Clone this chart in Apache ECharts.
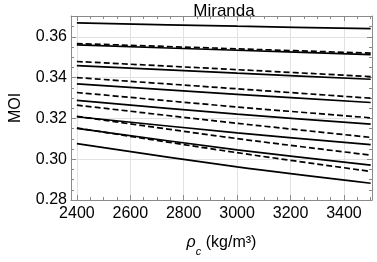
<!DOCTYPE html>
<html>
<head>
<meta charset="utf-8">
<script src="https://cdn.jsdelivr.net/npm/echarts@6/dist/echarts.min.js"></script>
<style>html,body{margin:0;padding:0;background:#fff}#c{width:377px;height:262px}</style>
</head>
<body>
<div id="c"></div>
<script>
// Core density samples (kg/m^3)
const rhoC = [2400, 3000, 3500];
// Solid curves (top to bottom), MOI at rhoC
const solid1 = [0.3668, 0.3652, 0.3640];
const solid2 = [0.3560, 0.3534, 0.3513];
const solid3 = [0.3459, 0.3422, 0.3392];
const solid4 = [0.3369, 0.3318, 0.3278];
const solid5 = [0.3288, 0.3221, 0.3172];
const solid6 = [0.3208, 0.3129, 0.3071];
const solid7 = [0.3151, 0.3046, 0.2971];
const solid8 = [0.3076, 0.2962, 0.2882];
// Dashed curves (top to bottom)
const dashed1 = [0.3567, 0.3541, 0.3520];
const dashed2 = [0.3479, 0.3439, 0.3405];
const dashed3 = [0.3400, 0.3345, 0.3299];
const dashed4 = [0.3327, 0.3256, 0.3203];
const dashed5 = [0.3265, 0.3176, 0.3107];
const dashed6 = [0.3210, 0.3101, 0.3020];
const dashed7 = [0.3153, 0.3032, 0.2940];

// Tick labels
const xTicks = [2400, 2600, 2800, 3000, 3200, 3400];
const yTicks = [0.28, 0.30, 0.32, 0.34, 0.36];
const xMinor = [2450,2500,2550,2650,2700,2750,2850,2900,2950,3050,3100,3150,3250,3300,3350,3450,3500];
const yMinor = [0.285,0.29,0.295,0.305,0.31,0.315,0.325,0.33,0.335,0.345,0.35,0.355,0.365,0.37];

const solids = [solid1, solid2, solid3, solid4, solid5, solid6, solid7, solid8];
const dasheds = [dashed1, dashed2, dashed3, dashed4, dashed5, dashed6, dashed7];

const FONT = 'Liberation Sans, Arial, Helvetica, sans-serif';
const X_MIN = 2378, X_MAX = 3505, Y_MIN = 0.28, Y_MAX = 0.3702;
const frameColor = '#8a8a8a';
const FS = 16;

function xAx(pos, vals, len, showLine, showLabel, grid) {
  return {
    type: 'value', min: X_MIN, max: X_MAX, position: pos,
    axisLine: {show: showLine, onZero: false, lineStyle: {color: frameColor, width: 1}},
    axisTick: {show: true, inside: true, length: len, customValues: vals, lineStyle: {color: frameColor}},
    axisLabel: {show: showLabel, customValues: vals, color: '#000', fontSize: FS, fontFamily: FONT, margin: 6,
      formatter: v => String(Math.round(v))},
    splitLine: {show: grid, lineStyle: {color: '#e2e2e2', width: 1}}
  };
}
function yAx(pos, vals, len, showLine, showLabel, grid) {
  return {
    type: 'value', min: Y_MIN, max: Y_MAX, position: pos,
    axisLine: {show: showLine, onZero: false, lineStyle: {color: frameColor, width: 1}},
    axisTick: {show: true, inside: true, length: len, customValues: vals, lineStyle: {color: frameColor}},
    axisLabel: {show: showLabel, customValues: vals, color: '#000', fontSize: FS, fontFamily: FONT, margin: 4,
      formatter: v => v.toFixed(2)},
    splitLine: {show: grid, lineStyle: {color: '#e2e2e2', width: 1}}
  };
}

const xAxes = [
  Object.assign(xAx('bottom', xTicks, 5, true, true, true), {
    name: '{i|ρ}{s|c} (kg/m³)', nameLocation: 'middle', nameGap: 35,
    nameTextStyle: {color: '#000', fontSize: FS, fontFamily: FONT,
      rich: {i: {fontStyle: 'italic', fontSize: FS, fontFamily: FONT, color: '#000'},
             s: {fontStyle: 'italic', fontSize: 11, fontFamily: FONT, color: '#000', verticalAlign: 'bottom', padding: [0,0,-6,0]}}}
  }),
  xAx('bottom', xMinor, 3, false, false, false),
  xAx('top', xTicks, 5, true, false, false),
  xAx('top', xMinor, 3, false, false, false)
];
const yAxes = [
  Object.assign(yAx('left', yTicks, 5, true, true, true), {
    name: 'MOI', nameLocation: 'middle', nameGap: 47,
    nameTextStyle: {color: '#000', fontSize: FS, fontFamily: FONT}
  }),
  yAx('left', yMinor, 3, false, false, false),
  yAx('right', yTicks, 5, true, false, false),
  yAx('right', yMinor, 3, false, false, false)
];

const series = [];
function mk(vals, dashed) {
  return {
    type: 'line', xAxisIndex: 0, yAxisIndex: 0, smooth: 0.3, showSymbol: false, silent: true,
    data: rhoC.map((x, i) => [x, vals[i]]),
    lineStyle: {color: '#000', width: 1.7, type: dashed ? [6, 3] : 'solid'}
  };
}
solids.forEach(s => series.push(mk(s, false)));
dasheds.forEach(d => series.push(mk(d, true)));

const chart = echarts.init(document.getElementById('c'), null, {renderer: 'canvas'});
chart.setOption({
  animation: false,
  backgroundColor: '#fff',
  title: {text: 'Miranda', left: 219, textAlign: 'center', top: -2,
    textStyle: {color: '#000', fontSize: 17, fontWeight: 'normal', fontFamily: FONT}},
  grid: {left: 62, right: 5, top: 16, bottom: 52, containLabel: false},
  xAxis: xAxes,
  yAxis: yAxes,
  series: series
});
</script>
</body>
</html>
